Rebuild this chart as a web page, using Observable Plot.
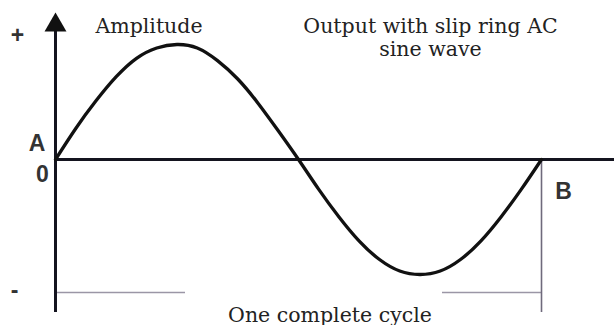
<!DOCTYPE html>
<html>
<head>
<meta charset="utf-8">
<script src="https://cdn.jsdelivr.net/npm/d3@7"></script>
<script src="https://cdn.jsdelivr.net/npm/@observablehq/plot@0.6"></script>
<style>
  html, body { margin: 0; padding: 0; background: #fff; }
</style>
</head>
<body>
<div id="chart"></div>
<script>
// Data: one complete cycle (angle in degrees, relative amplitude)
const angles  = [0, 15, 30, 45, 60, 75, 90, 105, 120, 135, 150, 165, 180,
                 195, 210, 225, 240, 255, 270, 285, 300, 315, 330, 345, 360];
const voltage = [0, 0.27, 0.51, 0.72, 0.88, 0.97, 1, 0.97, 0.86, 0.7, 0.49, 0.25, 0,
                 -0.26, -0.5, -0.71, -0.87, -0.97, -1, -0.97, -0.87, -0.71, -0.5, -0.26, 0];

const titleLabels = ["Amplitude", "Output with slip ring AC", "sine wave"];
const cycleLabel = "One complete cycle";
const axisSigns = ["+", "-"];
const pointLabels = ["A", "0", "B"];

const wave = angles.map((a, i) => ({angle: a, v: voltage[i]}));

// pixel -> data helpers for annotation placement
const X0 = 55, X1 = 541, Y0 = 274, Y1 = 44;
const px = p => (p - X0) / (X1 - X0) * 360;
const py = p => -1 + (Y0 - p) / (Y0 - Y1) * 2;

const serif = {fontFamily: "DejaVu Serif", fontSize: 20.5, fill: "#222", textAnchor: "middle", lineAnchor: "bottom"};
const bold = {fontFamily: "Liberation Sans", fontWeight: "bold", fontSize: 23, fill: "#333", textAnchor: "middle", lineAnchor: "middle"};

const chart = Plot.plot({
  width: 614,
  height: 325,
  margin: 0,
  x: {domain: [0, 360], range: [X0, X1], axis: null},
  y: {domain: [-1, 1], range: [Y0, Y1], axis: null},
  marks: [
    // thin cycle-span lines
    Plot.ruleY([py(292)], {x1: 0, x2: px(185), stroke: "#9b96a6", strokeWidth: 1.6}),
    Plot.ruleY([py(292)], {x1: px(442), x2: 360, stroke: "#9b96a6", strokeWidth: 1.6}),
    Plot.ruleX([360], {y1: 0, y2: py(312), stroke: "#6f6a7c", strokeWidth: 1.6}),
    // horizontal axis
    Plot.ruleY([0], {x1: 0, x2: px(614), stroke: "#14141f", strokeWidth: 3}),
    // vertical axis
    Plot.ruleX([0], {y1: py(312), y2: py(28), stroke: "#14141f", strokeWidth: 3}),
    Plot.dot([0], {x: d => d, y: () => py(24.7), symbol: "triangle", r: 8.14, fill: "#111", stroke: "none"}),
    // sine wave
    Plot.line(wave, {x: "angle", y: "v", curve: "natural", stroke: "#111", strokeWidth: 3.3}),
    // texts
    Plot.text([titleLabels[0]], {x: px(148.5), y: py(32), text: d => d, ...serif}),
    Plot.text([titleLabels[1]], {x: px(430), y: py(32), text: d => d, ...serif}),
    Plot.text([titleLabels[2]], {x: px(430), y: py(55), text: d => d, ...serif}),
    Plot.text([cycleLabel], {x: px(329.5), y: py(321), text: d => d, ...serif}),
    Plot.text([axisSigns[0]], {x: px(17), y: py(35), text: d => d, ...bold}),
    Plot.text([axisSigns[1]], {x: px(14), y: py(290), text: d => d, ...bold}),
    Plot.text([pointLabels[0]], {x: px(36.5), y: py(143.5), text: d => d, ...bold}),
    Plot.text([pointLabels[1]], {x: px(42), y: py(174), text: d => d, ...bold}),
    Plot.text([pointLabels[2]], {x: px(563), y: py(191), text: d => d, ...bold})
  ]
});
document.getElementById("chart").appendChild(chart);
</script>
</body>
</html>
